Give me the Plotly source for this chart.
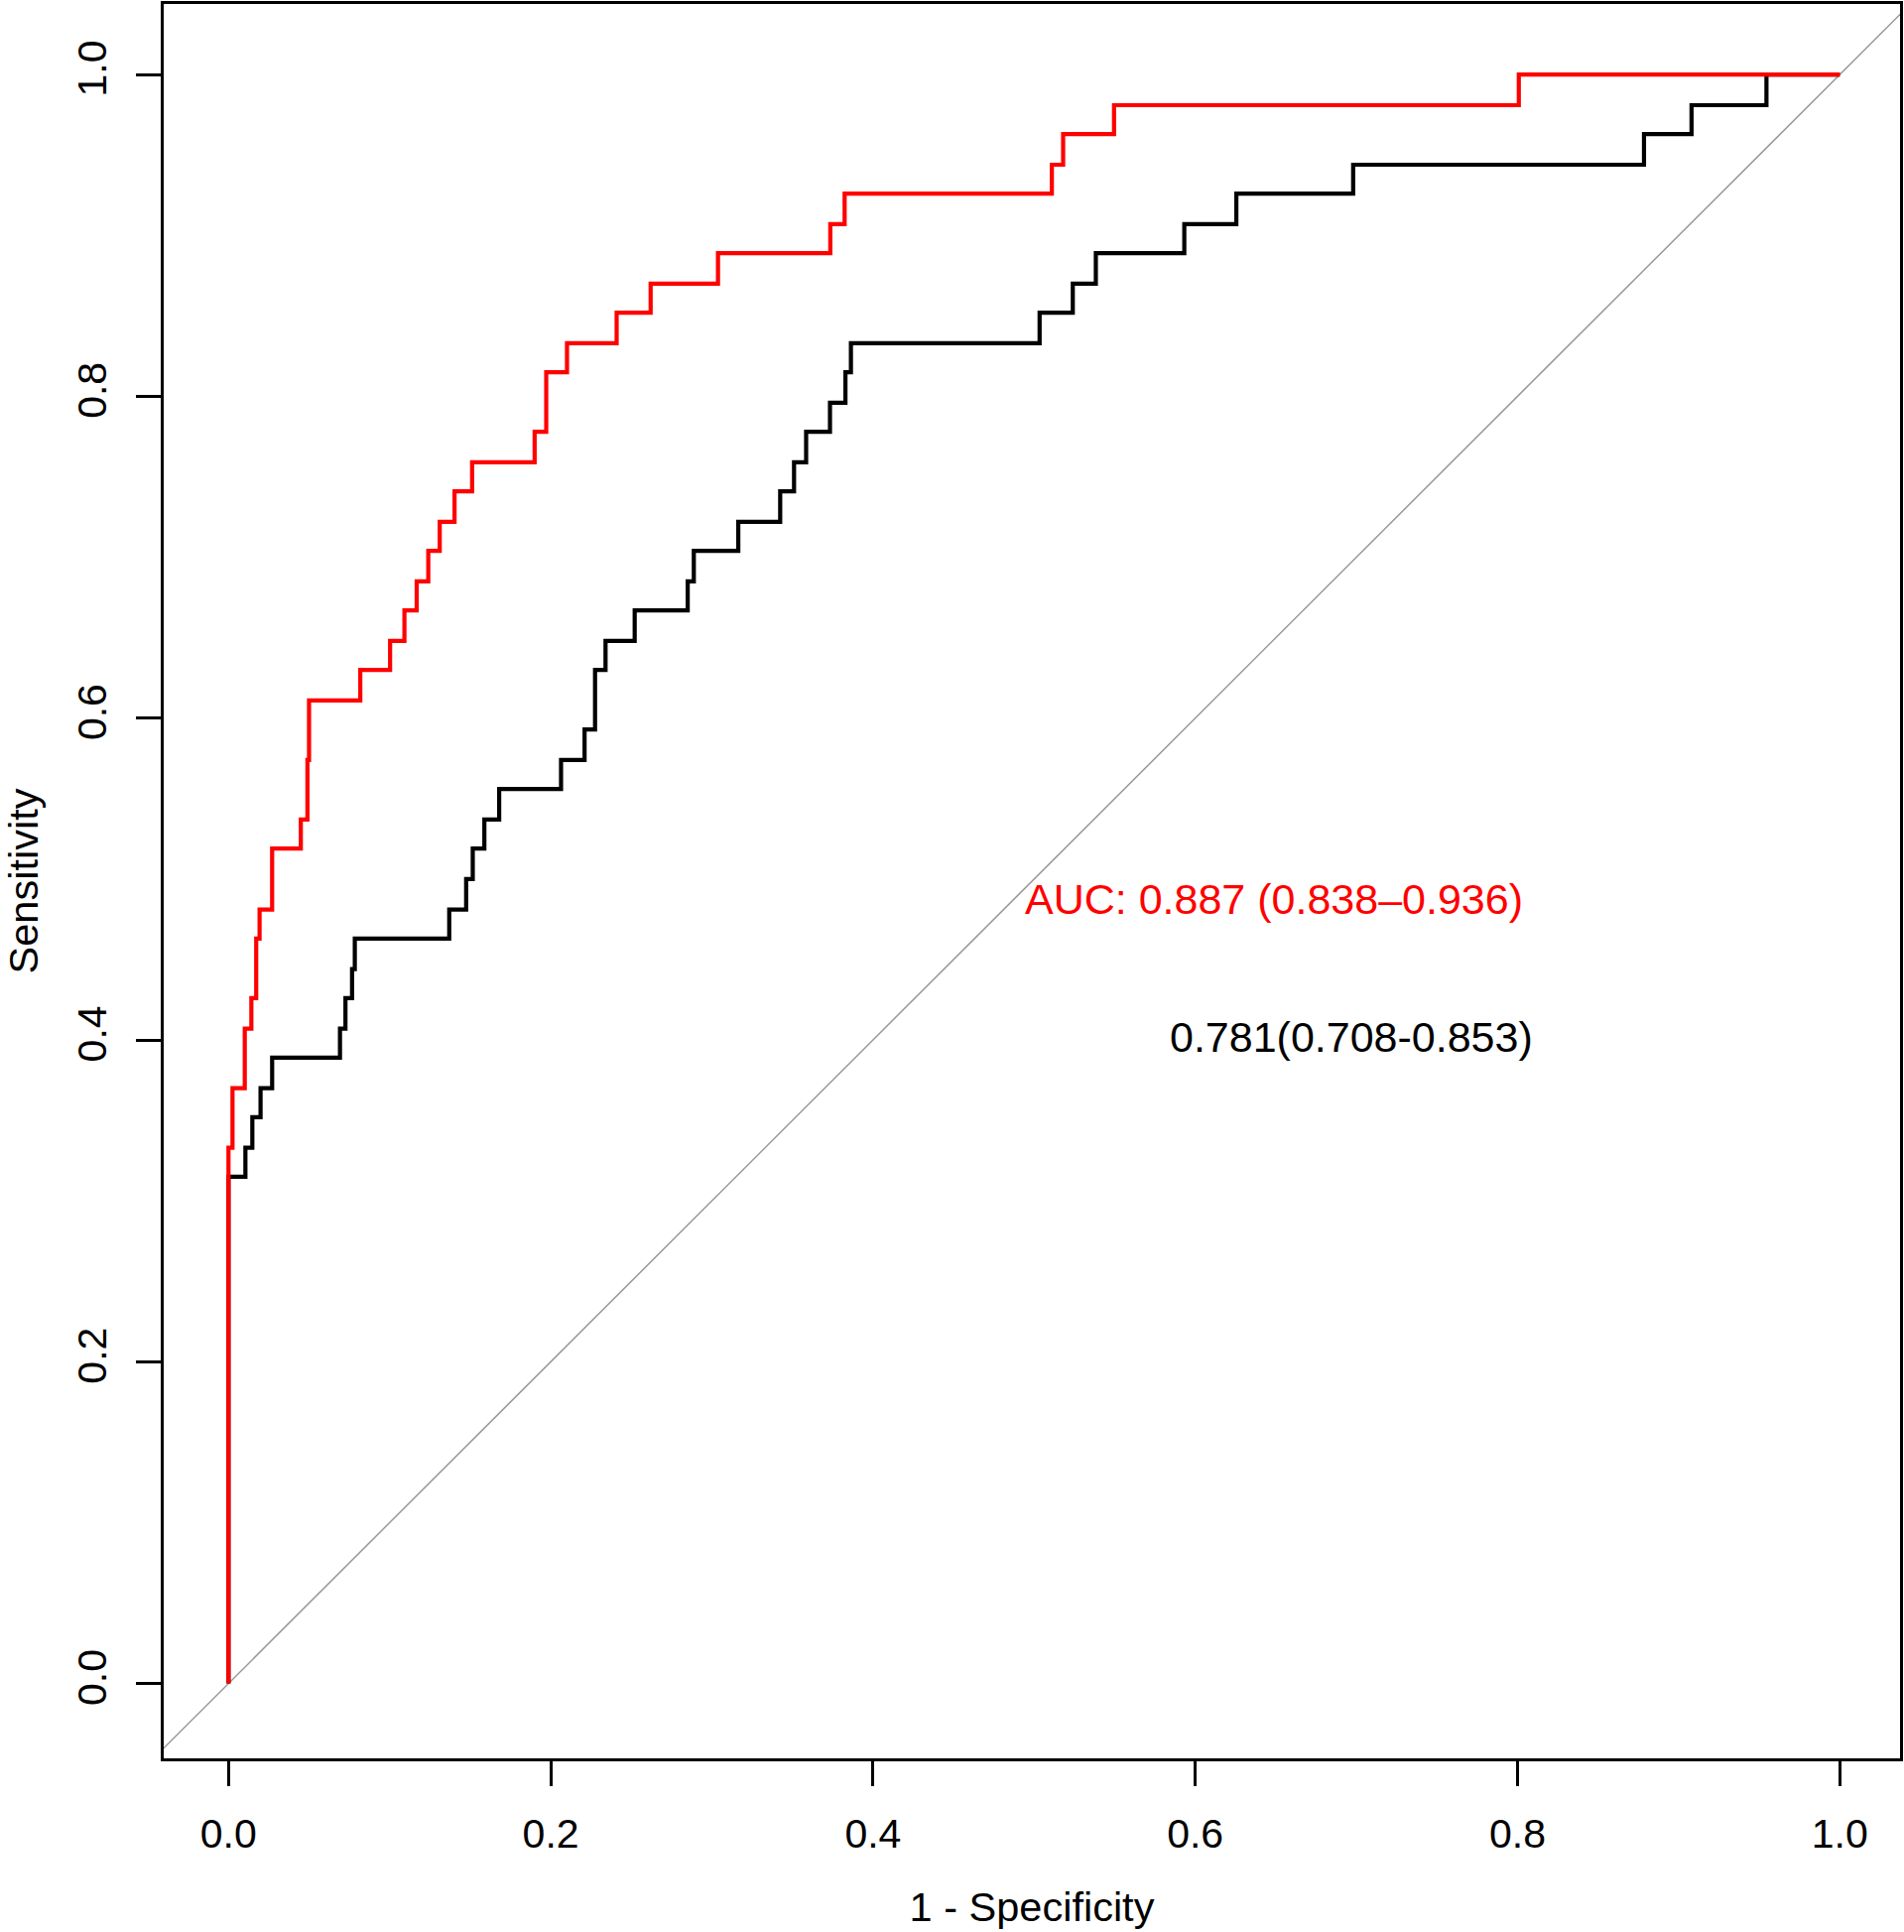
import plotly.graph_objects as go

# ROC 곡선 꼭짓점 - 1-특이도 / 민감도
red_fpr = [0, 0, 0.0025, 0.0101, 0.0142, 0.0172, 0.0193, 0.0271, 0.0449, 0.0490, 0.0500,
           0.0818, 0.1003, 0.1092, 0.1168, 0.1240, 0.1311, 0.1403, 0.1512, 0.1900, 0.1972,
           0.2101, 0.2409, 0.2620, 0.3038, 0.3735, 0.3824, 0.5110, 0.5180, 0.5496, 0.8008, 1.0]
red_tpr = [0, 0.333, 0.370, 0.407, 0.426, 0.463, 0.481, 0.519, 0.537, 0.574, 0.611,
           0.630, 0.648, 0.667, 0.685, 0.704, 0.722, 0.741, 0.759, 0.778, 0.815,
           0.833, 0.852, 0.870, 0.889, 0.907, 0.926, 0.944, 0.963, 0.981, 1.0, 1.0]

black_fpr = [0, 0, 0.0105, 0.0148, 0.0199, 0.0271, 0.0692, 0.0726, 0.0767, 0.0784, 0.1370,
             0.1475, 0.1516, 0.1588, 0.1680, 0.2064, 0.2210, 0.2275, 0.2340, 0.2521, 0.2850,
             0.2888, 0.3164, 0.3424, 0.3510, 0.3585, 0.3733, 0.3829, 0.3863, 0.5034, 0.5240,
             0.5383, 0.5932, 0.6255, 0.6980, 0.8785, 0.9080, 0.9545, 1.0]
black_tpr = [0, 0.315, 0.333, 0.352, 0.370, 0.389, 0.407, 0.426, 0.444, 0.463, 0.481,
             0.500, 0.519, 0.537, 0.556, 0.574, 0.593, 0.630, 0.648, 0.667, 0.685,
             0.704, 0.722, 0.741, 0.759, 0.778, 0.796, 0.815, 0.833, 0.852, 0.870,
             0.889, 0.907, 0.926, 0.944, 0.963, 0.981, 1.0, 1.0]

# 기준 대각선
diag = [-0.1, 1.1]

tick_vals = [0.0, 0.2, 0.4, 0.6, 0.8, 1.0]

red_label = "AUC: 0.887 (0.838\u20130.936)"
black_label = "0.781(0.708-0.853)"

FONT = "Liberation Sans, Arial, sans-serif"

fig = go.Figure()

fig.add_trace(go.Scatter(
    x=diag, y=diag, mode="lines",
    line=dict(color="#999999", width=1.5), hoverinfo="skip", showlegend=False
))

fig.add_trace(go.Scatter(
    x=black_fpr, y=black_tpr, mode="lines", line_shape="hv",
    line=dict(color="black", width=4.2), showlegend=False
))

fig.add_trace(go.Scatter(
    x=red_fpr, y=red_tpr, mode="lines", line_shape="hv",
    line=dict(color="#ff0000", width=4.2), showlegend=False
))

fig.add_annotation(x=0.649, y=0.4875, text=red_label, showarrow=False,
                   font=dict(family=FONT, size=43, color="#ff0000"))
fig.add_annotation(x=0.6966, y=0.402, text=black_label, showarrow=False,
                   font=dict(family=FONT, size=43, color="black"))

axis_common = dict(
    showgrid=False, zeroline=False,
    showline=True, linecolor="black", linewidth=2.5, mirror=True,
    ticks="outside", ticklen=25, tickwidth=2.5, tickcolor="black",
    tickvals=tick_vals, tickformat=".1f",
    tickfont=dict(family=FONT, size=41, color="black"),
)

fig.update_layout(
    width=1919, height=1947,
    margin=dict(l=165, r=3, t=1, b=175),
    paper_bgcolor="white", plot_bgcolor="white",
    font=dict(family=FONT, color="black"),
    xaxis=dict(
        range=[-0.0402, 1.0374],
        title=dict(text="1 - Specificity", font=dict(family=FONT, size=41.5), standoff=37),
        ticklabelstandoff=13,
        **axis_common,
    ),
    yaxis=dict(
        range=[-0.0465, 1.0439],
        title=dict(text="Sensitivity", font=dict(family=FONT, size=41.5), standoff=30),
        tickangle=-90, ticklabelstandoff=14,
        **axis_common,
    ),
)

# 페이지 기본 여백 제거 (그림을 창 왼쪽 위에 붙임), 모드바 숨김
fig.write_html("out.html", config={"displayModeBar": False},
               post_script="document.body.style.margin = '0';")
